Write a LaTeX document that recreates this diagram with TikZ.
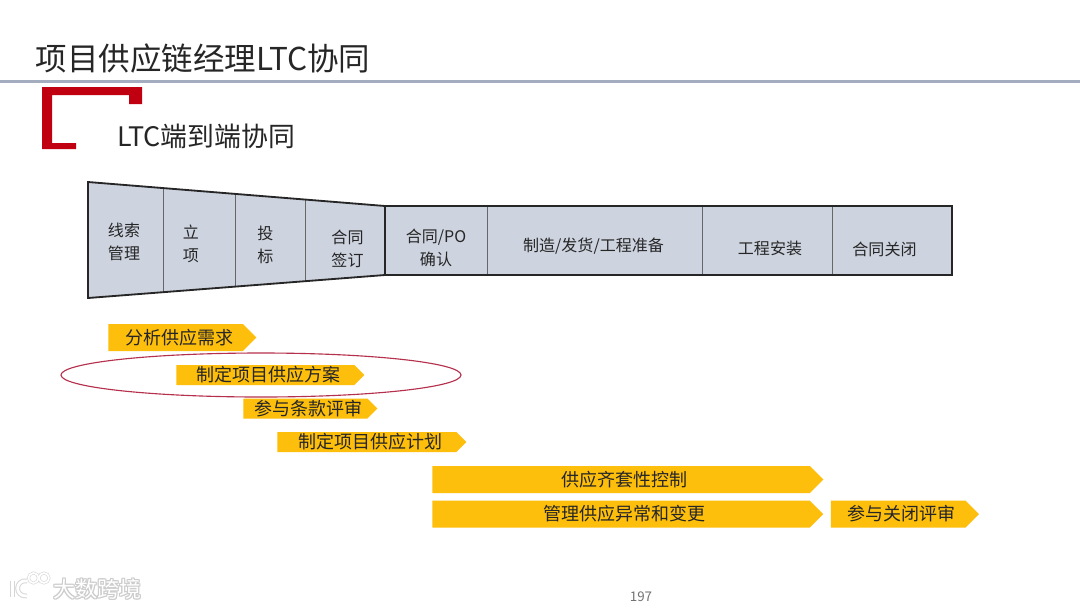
\documentclass[tikz,border=0pt]{standalone}
\usepackage{fontspec}
\setmainfont{Noto Sans CJK SC}
\usetikzlibrary{positioning,shapes.geometric,shapes.symbols}
\definecolor{cellfill}{HTML}{CDD3DF}
\definecolor{barfill}{HTML}{FDBE0C}
\definecolor{rulegray}{HTML}{A3ADBF}
\definecolor{markred}{HTML}{C00010}
\definecolor{ringred}{HTML}{B5304C}
\definecolor{txtdark}{HTML}{262626}
\def\px{0.025cm}
\tikzset{
  cell/.style={font=\fontsize{11.4}{16.4}\selectfont,text=txtdark,align=center,inner sep=0pt},
  task/.style={shape=signal,signal to=east,signal from=nowhere,signal pointer angle=90,
    fill=barfill,anchor=west,inner xsep=0pt,inner ysep=0pt,text=txtdark,
    font=\fontsize{12.8}{14}\selectfont,execute at begin node={\hspace*{0.175cm}}},
  wm/.style={font=\fontsize{15.6}{18}\selectfont,inner sep=0pt}
}
\begin{document}
\begin{tikzpicture}[x=\px,y=-\px]
\useasboundingbox (0,0) rectangle (1080,608);
\fill[white] (0,0) rectangle (1080,608);
% heading
\node (title) [anchor=west,inner sep=0pt,text=txtdark,font=\fontsize{22.4}{26}\selectfont] at (35.5,59) {项目供应链经理LTC协同};
\fill[rulegray] (0,79.5) rectangle (1080,82.5);
\fill[markred] (42,87) -- (142,87) -- (142,104) -- (129,104) -- (129,95) -- (52,95)
  -- (52,143) -- (76,143) -- (76,149) -- (42,149) -- cycle;
\node (sub) [anchor=west,inner sep=0pt,text=txtdark,font=\fontsize{19.1}{22}\selectfont] at (117,136) {LTC端到端协同};
% funnel
\coordinate (FA) at (88,182);
\coordinate (FB) at (385,206);
\coordinate (FC) at (385,275);
\coordinate (FD) at (88,298);
\coordinate (RB) at (952,206);
\coordinate (RC) at (952,275);
\fill[cellfill] (FA) -- (FB) -- (RB) -- (RC) -- (FC) -- (FD) -- cycle;
\foreach \xa/\ya/\yb in {163/188/292,235/194/287,305/199.5/281.5}
  \draw[line width=0.5pt,black!60] (\xa,\ya) -- (\xa,\yb);
\foreach \xa in {487,702,832}
  \draw[line width=0.5pt,black!60] (\xa,206) -- (\xa,275);
\draw[line width=1.3pt,black!85] (FA) -- (FB) -- (FC) -- (FD) -- cycle;
\draw[line width=1.3pt,black!85] (FB) -- (RB) -- (RC) -- (FC);
% stage labels
\node (S1) [cell] at (124,241.5) {线索\\管理};
\node (S2) [cell] at (191,243.5) {立\\项};
\node (S3) [cell] at (265.5,245) {投\\标};
\node (S4) [cell] at (347.5,248.5) {合同\\签订};
\node (S5) [cell] at (436,248) {合同/PO\\确认};
\node (S6) [cell] at (593.5,246) {制造/发货/工程准备};
\node (S7) [cell] at (770,248) {工程安装};
\node (S8) [cell] at (884.5,249) {合同关闭};
% tasks
\node (T1) [task,minimum width=148*\px,minimum height=27*\px] at (108,337.5) {分析供应需求};
\node (T2) [task,minimum width=188*\px,minimum height=20*\px] at (176,375) {制定项目供应方案};
\node (T3) [task,minimum width=134*\px,minimum height=20*\px] at (243,408.5) {参与条款评审};
\node (T4) [task,minimum width=189*\px,minimum height=20*\px] at (277,442) {制定项目供应计划};
\node (T5) [task,minimum width=391*\px,minimum height=27*\px] at (432,479.5) {供应齐套性控制};
\node (T6) [task,minimum width=391*\px,minimum height=27*\px,below=7*\px of T5.south west,anchor=north west] {管理供应异常和变更};
\node (T7) [task,minimum width=148*\px,minimum height=27*\px,right=7*\px of T6.east,anchor=west] {参与关闭评审};
\node (ring) [ellipse,draw=ringred,line width=0.8pt,minimum width=400*\px,minimum height=44*\px,inner sep=0pt] at (261,375) {};
% watermark
\foreach \col/\wd in {black!16/3.4pt,white/2pt}{
  \draw[\col,line width=\wd] (12.5,581) -- (12.5,597);
  \draw[\col,line width=\wd] (27,581) .. controls (15,579) and (14,597) .. (27,596);
  \draw[\col,line width=\wd*0.6] (33.5,578) circle (5) (44,578) circle (5);
}
\foreach \i/\dx/\dy in {1/-1/0,2/1/0,3/0/-1,4/0/1,5/1/1,6/-1/-1,7/1/-1,8/-1/1}
  \node (wm\i) [wm,text=black!20] at (97.5+\dx,589+\dy) {大数跨境};
\node (wmf) [wm,text=white] at (97.5,589) {大数跨境};
\node (page) [inner sep=0pt,text=black!55,font=\fontsize{9.5}{11}\selectfont] at (641,597) {197};
\end{tikzpicture}
\end{document}
